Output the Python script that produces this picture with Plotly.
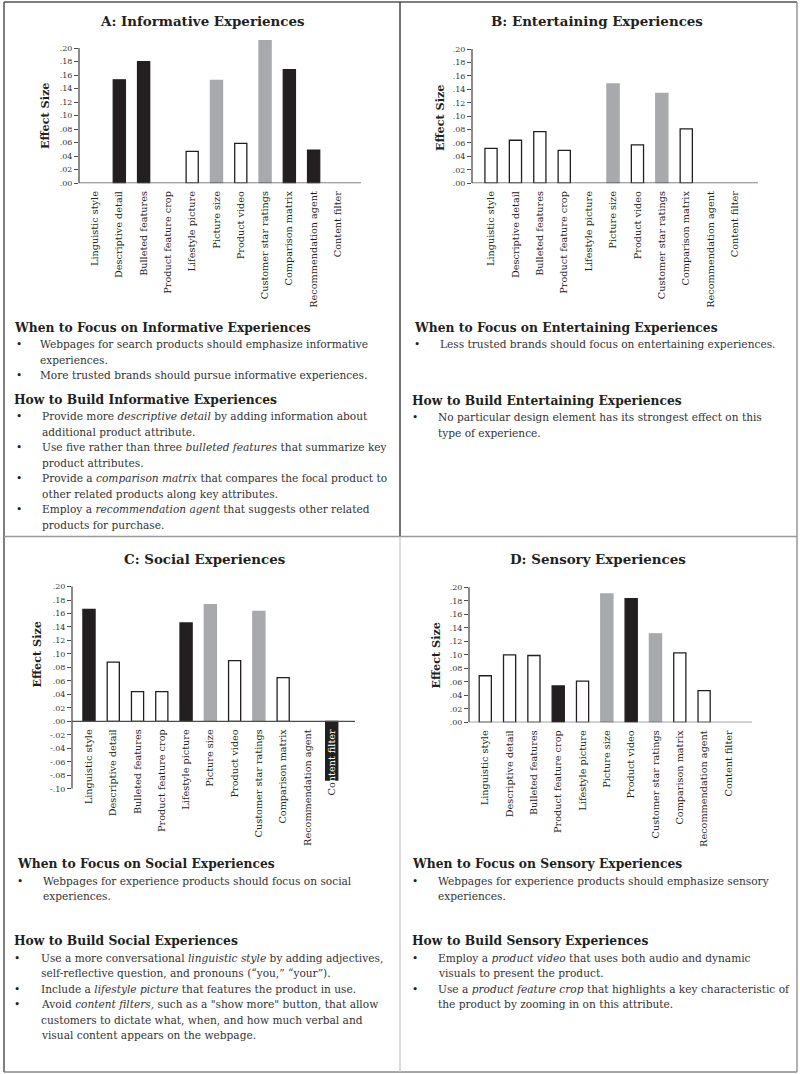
import plotly.graph_objects as go

W, H = 800, 1074
FIG_H = 1080  # rendered page height (screenshot is fitted to 1074)

# ---------------- data ----------------
categories = ["Linguistic style", "Descriptive detail", "Bulleted features",
              "Product feature crop", "Lifestyle picture", "Picture size",
              "Product video", "Customer star ratings", "Comparison matrix",
              "Recommendation agent", "Content filter"]

informative = [None, 0.153, 0.180, None, 0.047, 0.152, 0.059, 0.211, 0.168, 0.049, None]
entertaining = [0.052, 0.064, 0.077, 0.049, None, 0.148, 0.057, 0.134, 0.081, None, None]
social = [0.166, 0.088, 0.044, 0.044, 0.146, 0.173, 0.090, 0.163, 0.065, None, -0.087]
sensory = [0.069, 0.100, 0.099, 0.054, 0.061, 0.190, 0.183, 0.131, 0.103, 0.047, None]

informative_strongest = ["Descriptive detail", "Bulleted features", "Comparison matrix", "Recommendation agent"]
entertaining_strongest = []
social_strongest = ["Linguistic style", "Lifestyle picture", "Content filter"]
sensory_strongest = ["Product feature crop", "Product video"]
control_elements = ["Picture size", "Customer star ratings"]

ytick_vals = [-0.10, -0.08, -0.06, -0.04, -0.02, 0.00, 0.02, 0.04, 0.06, 0.08,
              0.10, 0.12, 0.14, 0.16, 0.18, 0.20]
ytick_text = ["-.10", "-.08", "-.06", "-.04", "-.02", ".00", ".02", ".04", ".06", ".08",
              ".10", ".12", ".14", ".16", ".18", ".20"]

titles = ["A: Informative Experiences", "B: Entertaining Experiences",
          "C: Social Experiences", "D: Sensory Experiences"]
y_title = "Effect Size"

A_when_head = "When to Focus on Informative Experiences"
A_when = [["Webpages for search products should emphasize informative", "experiences."],
          ["More trusted brands should pursue informative experiences."]]
A_how_head = "How to Build Informative Experiences"
A_how = [["Provide more <i>descriptive detail</i> by adding information about",
          "additional product attribute."],
         ["Use five rather than three <i>bulleted features</i> that summarize key",
          "product attributes."],
         ["Provide a <i>comparison matrix</i> that compares the focal product to",
          "other related products along key attributes."],
         ["Employ a <i>recommendation agent</i> that suggests other related",
          "products for purchase."]]

B_when_head = "When to Focus on Entertaining Experiences"
B_when = [["Less trusted brands should focus on entertaining experiences."]]
B_how_head = "How to Build Entertaining Experiences"
B_how = [["No particular design element has its strongest effect on this",
          "type of experience."]]

C_when_head = "When to Focus on Social Experiences"
C_when = [["Webpages for experience products should focus on social", "experiences."]]
C_how_head = "How to Build Social Experiences"
C_how = [["Use a more conversational <i>linguistic style</i> by adding adjectives,",
          "self-reflective question, and pronouns (\u201cyou,\u201d \u201cyour\u201d)."],
         ["Include a <i>lifestyle picture</i> that features the product in use."],
         ["Avoid <i>content filters,</i> such as a \"show more\" button, that allow",
          "customers to dictate what, when, and how much verbal and",
          "visual content appears on the webpage."]]

D_when_head = "When to Focus on Sensory Experiences"
D_when = [["Webpages for experience products should emphasize sensory", "experiences."]]
D_how_head = "How to Build Sensory Experiences"
D_how = [["Employ a <i>product video</i> that uses both audio and dynamic",
          "visuals to present the product."],
         ["Use a <i>product feature crop</i> that highlights a key characteristic of",
          "the product by zooming in on this attribute."]]

# ---------------- styling / layout ----------------
FONT = "DejaVu Serif"
BLACK = "#231f20"
GRAY = "#a7a9ac"
AXC = "#4d4d4d"

series = [informative, entertaining, social, sensory]
strongest = [informative_strongest, entertaining_strongest, social_strongest, sensory_strongest]

# pixel geometry of each panel's plot: x0, x1, zero-line y, px per unit, ymin, xrange
geom = [
    dict(x0=79, x1=361, zero=183.0, scale=675.0, ymin=0.0, xr=[-0.66, 10.95]),
    dict(x0=472, x1=758, zero=183.0, scale=670.0, ymin=0.0, xr=[-0.78, 10.94]),
    dict(x0=72, x1=355, zero=720.7, scale=673.5, ymin=-0.10, xr=[-0.70, 10.96]),
    dict(x0=469, x1=752, zero=721.7, scale=675.0, ymin=0.0, xr=[-0.67, 10.97]),
]
YMAX = 0.215

fig = go.Figure()
layout = dict(width=W, height=FIG_H, margin=dict(l=0, r=0, t=0, b=0),
              paper_bgcolor="white", plot_bgcolor="white", showlegend=False,
              font=dict(family=FONT, color="#231f20"))
shapes = []
annotations = []


def px(x):
    return x / W


def py(y):
    return 1 - y / H


for i, (vals, strong, g) in enumerate(zip(series, strongest, geom)):
    n = "" if i == 0 else str(i + 1)
    fills, lines = [], []
    for c in categories:
        if c in strong:
            fills.append(BLACK); lines.append(BLACK)
        elif c in control_elements:
            fills.append(GRAY); lines.append(GRAY)
        else:
            fills.append("white"); lines.append(BLACK)
    fig.add_trace(go.Bar(x=categories, y=vals, width=0.5,
                         marker=dict(color=fills, line=dict(color=lines, width=1.3)),
                         xaxis="x" + n, yaxis="y" + n, hoverinfo="skip"))
    top_py = g["zero"] - YMAX * g["scale"]
    bot_py = g["zero"] - g["ymin"] * g["scale"]
    tickt = list(categories)
    if i == 2:
        tickt[-1] = "Co<span style='color:white'>ntent filter</span>"
    xa = dict(type="category", domain=[px(g["x0"]), px(g["x1"])], range=g["xr"],
              tickmode="array", tickvals=categories, ticktext=tickt,
              tickangle=-90, ticks="", showline=False, showgrid=False, zeroline=False,
              tickfont=dict(family=FONT, size=9.7, color="#231f20"),
              ticklabelstandoff=5, fixedrange=True)
    if g["ymin"] < 0:
        xa.update(anchor="free", position=py(g["zero"]))
    else:
        xa.update(anchor="y" + n)
    tv = [v for v in ytick_vals if v >= g["ymin"] - 1e-9]
    tt = [t for v, t in zip(ytick_vals, ytick_text) if v >= g["ymin"] - 1e-9]
    ya = dict(domain=[py(bot_py), py(top_py)], range=[g["ymin"], YMAX], anchor="x" + n,
              tickmode="array", tickvals=tv, ticktext=tt, ticks="outside", ticklen=4,
              tickcolor=AXC, tickwidth=1, showline=False, showgrid=False, zeroline=False,
              tickfont=dict(family=FONT, size=8, color="#333333"), fixedrange=True)
    layout["xaxis" + n] = xa
    layout["yaxis" + n] = ya
    # axis lines
    shapes.append(dict(type="line", xref="x" + n + " domain", yref="y" + n,
                       x0=0, x1=0, y0=g["ymin"], y1=0.20, line=dict(color=AXC, width=1.3)))
    shapes.append(dict(type="line", xref="x" + n + " domain", yref="y" + n,
                       x0=0, x1=1, y0=0, y1=0, line=dict(color=AXC, width=1.3)))

# Effect Size titles
for (xx, yy) in [(45, 116), (440, 118), (37, 654), (436, 655)]:
    annotations.append(dict(x=px(xx), y=py(yy), xref="paper", yref="paper", text=y_title,
                            textangle=-90, showarrow=False, xanchor="center", yanchor="middle",
                            font=dict(family=FONT, size=11.2, color="#231f20", weight="bold")))

# Panel titles
for t, (xx, yy) in zip(titles, [(202, 21), (597, 21), (204, 558), (598, 558)]):
    annotations.append(dict(x=px(xx), y=py(yy), xref="paper", yref="paper", text=t,
                            showarrow=False, xanchor="center", yanchor="middle",
                            font=dict(family=FONT, size=13.4, color="#231f20", weight="bold")))


def text_block(head, bullets, hx, y, bx, tx):
    annotations.append(dict(x=px(hx), y=py(y), xref="paper", yref="paper", text=head,
                            showarrow=False, xanchor="left", yanchor="middle",
                            font=dict(family=FONT, size=12.3, color="#231f20", weight="bold")))
    yy = y + 17
    for item in bullets:
        annotations.append(dict(x=px(bx), y=py(yy), xref="paper", yref="paper", text="\u2022",
                                showarrow=False, xanchor="left", yanchor="middle",
                                font=dict(family=FONT, size=10.6, color="#231f20")))
        for line in item:
            annotations.append(dict(x=px(tx), y=py(yy), xref="paper", yref="paper", text=line,
                                    showarrow=False, xanchor="left", yanchor="middle",
                                    font=dict(family=FONT, size=10.6, color="#333333")))
            yy += 15.5


text_block(A_when_head, A_when, 12, 327, 14, 38)
text_block(A_how_head, A_how, 12, 399, 14, 40)
text_block(B_when_head, B_when, 412, 327, 412, 438)
text_block(B_how_head, B_how, 410, 400, 410, 436)
text_block(C_when_head, C_when, 15, 863, 15, 41)
text_block(C_how_head, C_how, 12, 940, 12, 39)
text_block(D_when_head, D_when, 410, 863, 410, 436)
text_block(D_how_head, D_how, 410, 940, 410, 436)

# borders / dividers
def seg(x0, y0, x1, y1, color, w=1.5):
    shapes.append(dict(type="line", xref="paper", yref="paper", x0=px(x0), y0=py(y0),
                       x1=px(x1), y1=py(y1), line=dict(color=color, width=w)))

seg(4, 2, 797, 2, "#555555")
seg(4, 2, 4, 1071, "#555555")
seg(797, 2, 797, 1071, "#999999")
seg(4, 1071, 797, 1071, "#888888")
seg(4, 536, 797, 536, "#999999")
seg(400, 2, 400, 536, "#444444")
seg(400, 536, 400, 1071, "#cccccc")

layout["shapes"] = shapes
layout["annotations"] = annotations
fig.update_layout(**layout)
fig.write_html("out.html", config={"displayModeBar": False},
               post_script=("document.documentElement.style.margin='0';"
                            "document.body.style.margin='0';"
                            "document.body.style.overflow='hidden';"
                            "var d=document.getElementById('{plot_id}');"
                            "d.style.position='fixed';d.style.top='0';d.style.left='0';"))
